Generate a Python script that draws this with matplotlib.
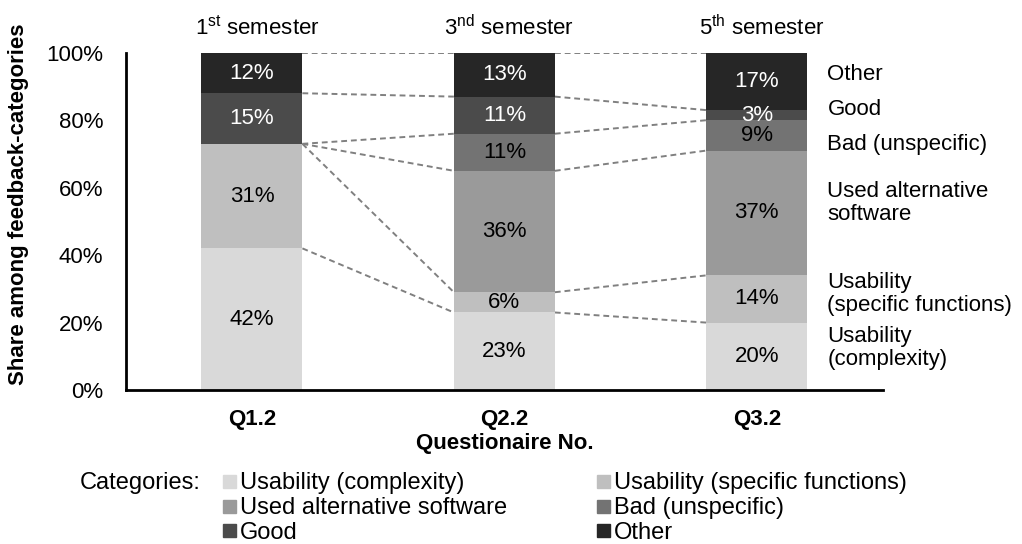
import matplotlib.pyplot as plt
import numpy as np

plt.rcParams['font.family'] = ['Liberation Sans', 'DejaVu Sans']
plt.rcParams['mathtext.fontset'] = 'custom'
plt.rcParams['mathtext.rm'] = 'Liberation Sans'

# --- datos ---
cuestionarios = ["Q1.2", "Q2.2", "Q3.2"]
semestres = [r"1$^{\mathrm{st}}$ semester", r"3$^{\mathrm{nd}}$ semester", r"5$^{\mathrm{th}}$ semester"]
categorias = ["Usability (complexity)", "Usability (specific functions)",
              "Used alternative software", "Bad (unspecific)", "Good", "Other"]
etiquetas_derecha = ["Usability\n(complexity)", "Usability\n(specific functions)",
                     "Used alternative\nsoftware", "Bad (unspecific)", "Good", "Other"]
complejidad = [42, 23, 20]
especificas = [31, 6, 14]
alternativo = [0, 36, 37]
malo = [0, 11, 9]
bueno = [15, 11, 3]
otro = [12, 13, 17]

series = [complejidad, especificas, alternativo, malo, bueno, otro]
colores = ["#d9d9d9", "#bfbfbf", "#9a9a9a", "#737373", "#4b4b4b", "#262626"]
color_texto = ["black", "black", "black", "black", "white", "white"]

FS = 16

fig = plt.figure(figsize=(10.22, 5.44), dpi=100)
ax = fig.add_axes([0.123, 0.283, 0.741, 0.620])

x = np.arange(len(cuestionarios))
ancho = 0.4
base = np.zeros(len(x))
tops = []
for s, c, tc in zip(series, colores, color_texto):
    vals = np.array(s, dtype=float)
    ax.bar(x, vals / 100, ancho, bottom=base / 100, color=c, zorder=2)
    for xi, b, v in zip(x, base, vals):
        if v > 0:
            ax.text(xi, (b + v / 2) / 100, f"{int(v)}%", ha="center", va="center",
                    fontsize=FS, color=tc, zorder=3)
    base = base + vals
    tops.append(base.copy())

# lineas punteadas entre barras
for t in tops:
    for i in range(len(x) - 1):
        ax.plot([x[i] + ancho / 2, x[i + 1] - ancho / 2], [t[i] / 100, t[i + 1] / 100],
                ls=(0, (3, 2)), color="#808080", lw=1.4, zorder=1)

# etiquetas a la derecha
pos_y = [0.125, 0.285, 0.555, 0.727, 0.831, 0.935]
for lab, py in zip(etiquetas_derecha, pos_y):
    ax.text(2.28, py, lab, ha="left", va="center", fontsize=FS, linespacing=1.1,
            clip_on=False)

for xi, s in zip(x, semestres):
    ax.text(xi + 0.02, 1.074, s, ha="center", va="center", fontsize=FS)

ax.set_xlim(-0.5, 2.5)
ax.set_ylim(0, 1)
ax.set_yticks(np.linspace(0, 1, 6))
ax.set_yticklabels([f"{int(v)}%" for v in np.linspace(0, 100, 6)], fontsize=FS)
ax.set_xticks(x)
ax.set_xticklabels(cuestionarios, fontsize=FS, fontweight="bold")
ax.tick_params(length=0)
ax.tick_params(axis="x", pad=14)
ax.tick_params(axis="y", pad=16)
for lado in ["top", "right"]:
    ax.spines[lado].set_visible(False)
for lado in ["left", "bottom"]:
    ax.spines[lado].set_linewidth(2)
ax.set_ylabel("Share among feedback-categories", fontsize=16, fontweight="bold")
ax.yaxis.set_label_coords(-0.128, 0.55)
ax.set_xlabel("Questionaire No.", fontsize=FS, fontweight="bold", labelpad=2)

# leyenda manual
fig.text(0.078, 0.112, "Categories:", fontsize=17, va="center")
cols_x = [0.218, 0.584]
filas_y = [0.112, 0.066, 0.021]
for k, (cat, c) in enumerate(zip(categorias, colores)):
    cx = cols_x[k % 2]
    cy = filas_y[k // 2]
    fig.patches.append(plt.Rectangle((cx, cy - 0.009), 0.0127, 0.024, color=c,
                                     transform=fig.transFigure))
    fig.text(cx + 0.017, cy, cat, fontsize=17, va="center")

plt.savefig("out.png", dpi=100)
